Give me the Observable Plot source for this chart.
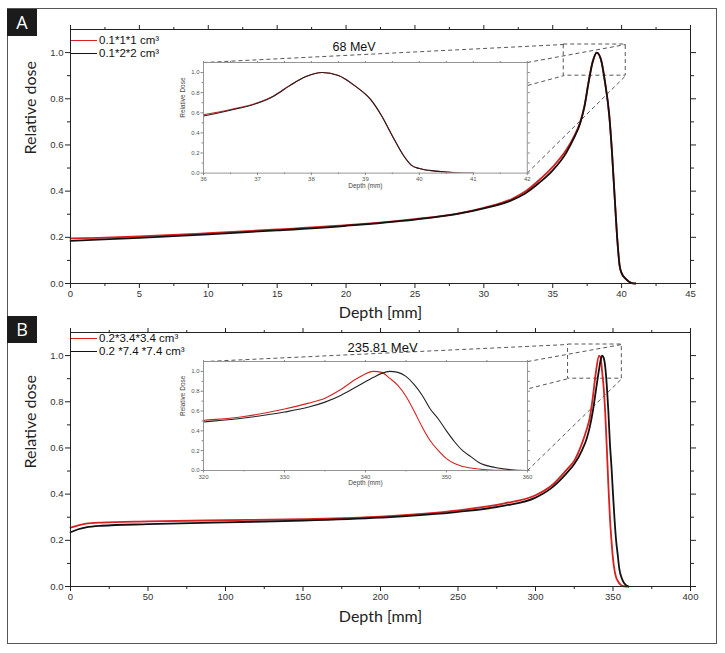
<!DOCTYPE html>
<html><head><meta charset="utf-8">
<script src="https://cdn.jsdelivr.net/npm/d3@7"></script>
<script src="https://cdn.jsdelivr.net/npm/@observablehq/plot@0.6"></script>
<style>
html,body{margin:0;padding:0;background:#fff;overflow:hidden}
#fig{position:relative;width:725px;height:653px;overflow:hidden}
#fig svg{position:absolute;overflow:visible}
.tag{position:absolute;background:#1b1b1b;color:#fff;font:18px "Open Sans",sans-serif;text-align:center;width:30px;height:27px;line-height:27px}
.leg{position:absolute;font:11.5px "Liberation Sans",Arial,sans-serif;color:#111;white-space:nowrap;line-height:13px}
.sw{position:absolute;width:26px;height:0}
#border{position:absolute;left:7px;top:8px;width:708px;height:634px;border:1.5px solid #555;pointer-events:none}
</style></head><body><div id="fig"><div id="border"></div></div>
<script>
// ---------- Panel A: 68 MeV ----------
const aDepth = [0, 2, 5, 10, 15, 20, 25, 28, 30, 32, 33, 34, 35, 36, 36.5, 37, 37.3, 37.6, 37.9, 38.2, 38.5, 38.8, 39.1, 39.3, 39.5, 39.7, 39.85, 40, 40.3, 40.7, 41];
const aRed   = [0.195, 0.198, 0.204, 0.218, 0.234, 0.253, 0.279, 0.302, 0.328, 0.365, 0.398, 0.447, 0.505, 0.58, 0.632, 0.70, 0.768, 0.872, 0.96, 1.0, 0.97, 0.87, 0.73, 0.57, 0.37, 0.18, 0.08, 0.045, 0.02, 0.003, 0];
const aBlack = [0.185, 0.19, 0.198, 0.213, 0.23, 0.25, 0.277, 0.30, 0.325, 0.36, 0.39, 0.435, 0.49, 0.568, 0.625, 0.695, 0.765, 0.87, 0.96, 1.0, 0.97, 0.87, 0.73, 0.57, 0.37, 0.18, 0.08, 0.045, 0.02, 0.003, 0];
const aLegend = ["0.1*1*1 cm³", "0.1*2*2 cm³"];
const aEnergy = "68 MeV";
const aXTicks = [0, 5, 10, 15, 20, 25, 30, 35, 40, 45];
const aXMinor = [2.5, 7.5, 12.5, 17.5, 22.5, 27.5, 32.5, 37.5, 42.5];
const aInsetXTicks = [36, 37, 38, 39, 40, 41, 42];
const aInsetXMinor = [36.5, 37.5, 38.5, 39.5, 40.5, 41.5];

// ---------- Panel B: 235.81 MeV ----------
const bDepthRed = [0, 5, 10, 20, 50, 100, 150, 200, 250, 280, 300, 310, 320, 325, 330, 333, 335, 337, 339, 341, 342, 343, 344, 345, 346, 347, 348, 349, 350, 351, 352, 353, 355, 357, 360];
const bRed      = [0.255, 0.265, 0.272, 0.277, 0.282, 0.287, 0.292, 0.303, 0.33, 0.36, 0.395, 0.435, 0.505, 0.545, 0.62, 0.68, 0.73, 0.82, 0.93, 1.0, 0.99, 0.93, 0.86, 0.75, 0.60, 0.44, 0.30, 0.20, 0.12, 0.07, 0.04, 0.025, 0.007, 0.001, 0];
const bDepthBlack = [0, 5, 10, 20, 50, 100, 150, 200, 250, 280, 300, 310, 320, 325, 330, 333, 335, 337, 339, 341, 342, 343, 344, 345, 346, 347, 348, 349, 350, 351, 352, 353, 354, 356, 358, 360];
const bBlack      = [0.235, 0.248, 0.256, 0.263, 0.27, 0.278, 0.285, 0.298, 0.323, 0.35, 0.385, 0.425, 0.49, 0.53, 0.59, 0.64, 0.69, 0.76, 0.85, 0.94, 0.98, 1.0, 0.99, 0.95, 0.87, 0.76, 0.62, 0.52, 0.40, 0.29, 0.20, 0.14, 0.08, 0.03, 0.008, 0];
const bLegend = ["0.2*3.4*3.4 cm³", "0.2 *7.4 *7.4 cm³"];
const bEnergy = "235.81 MeV";
const bXTicks = [0, 50, 100, 150, 200, 250, 300, 350, 400];
const bXMinor = [25, 75, 125, 175, 225, 275, 325, 375];
const bInsetXTicks = [320, 330, 340, 350, 360];
const bInsetXMinor = [325, 335, 345, 355];

// ---------- shared ----------
const yTicks = [0, 0.2, 0.4, 0.6, 0.8, 1.0];
const yMinor = [0.1, 0.3, 0.5, 0.7, 0.9];
const yDomain = [0, 1.1];

// layout (in each main panel's data coordinates)
const layoutA = {top: 0, xDomain: [0, 45], insetX: [9.65, 33.15], insetY: [0.478, 0.957], insetDomain: [36, 42],
  box: {x1: 35.8, x2: 40.3, y1: 0.9, y2: 1.035}, energyDx: 262, energyDy: 13, energySize: 12.5, yTitleDy: -2, xTitleDy: 34,
  tag: "A", tagTop: 9, legTop: 40.7};
const layoutB = {top: 303, xDomain: [0, 400], insetX: [85.8, 294.8], insetY: [0.502, 0.974], insetDomain: [320, 360],
  box: {x1: 321, x2: 355.7, y1: 0.9, y2: 1.048}, energyDx: 277, energyDy: 10, energySize: 13, yTitleDy: 9, xTitleDy: 35,
  tag: "B", tagTop: 316, legTop: 339};

const FONT = '"Liberation Sans", Arial, sans-serif';
const TFONT = 'Lato, "Open Sans", sans-serif';
const RED = "#d8201f", BLACK = "#111";
const blank = () => "";

function toRows(depth, dose) { return depth.map((d, i) => ({depth: d, dose: dose[i]})); }

function mainPanel(L, red, black, xTicks, xMinor, energy) {
  const [x1, x2] = L.insetX, [y1, y2] = L.insetY, b = L.box;
  const links = [
    {x1: x1, y1: y2, x2: b.x1, y2: b.y2},
    {x1: x2, y1: y2, x2: b.x2, y2: b.y2},
    {x1: x2, y1: y1, x2: b.x2, y2: b.y1},
    {x1: x1, y1: y1, x2: b.x1, y2: b.y1}
  ];
  const dash = {stroke: "#444", strokeWidth: 0.9, strokeDasharray: "4,3"};
  const tk = {stroke: "#222", fill: "#333", label: null};
  return Plot.plot({
    width: 725, height: 330, marginLeft: 70, marginRight: 35, marginTop: 29, marginBottom: 47,
    x: {domain: L.xDomain}, y: {domain: yDomain},
    style: {fontFamily: FONT, fontSize: "9.5px", background: "transparent", color: "#222"},
    marks: [
      Plot.link(links, {x1: "x1", y1: "y1", x2: "x2", y2: "y2", ...dash}),
      Plot.rect([b], {x1: "x1", x2: "x2", y1: "y1", y2: "y2", fill: "none", ...dash}),
      Plot.line(red, {x: "depth", y: "dose", stroke: RED, strokeWidth: 1.8, curve: "monotone-x"}),
      Plot.line(black, {x: "depth", y: "dose", stroke: BLACK, strokeWidth: 1.8, curve: "monotone-x"}),
      Plot.frame({stroke: "#222", strokeWidth: 1}),
      Plot.axisY({...tk, anchor: "left", ticks: yTicks, tickSize: 5, tickPadding: 2, tickFormat: d => d.toFixed(1)}),
      Plot.axisY({...tk, anchor: "left", ticks: yMinor, tickSize: 3, tickFormat: blank}),
      Plot.axisY({...tk, anchor: "right", ticks: yTicks, tickSize: 5, tickFormat: blank}),
      Plot.axisY({...tk, anchor: "right", ticks: yMinor, tickSize: 3, tickFormat: blank}),
      Plot.axisX({...tk, anchor: "bottom", ticks: xTicks, tickSize: 5, tickPadding: 2, tickFormat: d => String(d)}),
      Plot.axisX({...tk, anchor: "bottom", ticks: xMinor, tickSize: 3, tickFormat: blank}),
      Plot.axisX({...tk, anchor: "top", ticks: xTicks, tickSize: 5, tickFormat: blank}),
      Plot.axisX({...tk, anchor: "top", ticks: xMinor, tickSize: 3, tickFormat: blank}),
      Plot.text([energy], {text: d => d, frameAnchor: "top-left", textAnchor: "start", dx: L.energyDx, dy: L.energyDy, fontSize: L.energySize, fill: "#111"}),
      Plot.text(["Depth [mm]"], {text: d => d, frameAnchor: "bottom", dy: L.xTitleDy, fontFamily: TFONT, fontSize: 16, fill: "#222"}),
      Plot.text(["Relative dose"], {text: d => d, frameAnchor: "left", rotate: -90, dx: -40, dy: L.yTitleDy, fontFamily: TFONT, fontSize: 16, fill: "#222"})
    ]
  });
}

function insetPanel(L, red, black, xTicks, xMinor, w, h, ml, mt, mr, mb) {
  const tk = {stroke: "#888", fill: "#555", label: null};
  return Plot.plot({
    width: w + ml + mr, height: h + mt + mb, marginLeft: ml, marginRight: mr, marginTop: mt, marginBottom: mb,
    x: {domain: L.insetDomain}, y: {domain: yDomain},
    style: {fontFamily: FONT, fontSize: "6px", background: "transparent"},
    marks: [
      Plot.frame({fill: "white", stroke: "none"}),
      Plot.line(red, {x: "depth", y: "dose", stroke: RED, strokeWidth: 1.1, curve: "monotone-x", clip: true}),
      Plot.line(black, {x: "depth", y: "dose", stroke: "#222", strokeWidth: 1.1, curve: "monotone-x", clip: true}),
      Plot.frame({stroke: "#8a8a8a", strokeWidth: 0.9}),
      Plot.axisY({...tk, anchor: "left", ticks: yTicks, tickSize: 2.5, tickPadding: 1.5, tickFormat: d => d.toFixed(1)}),
      Plot.axisY({...tk, anchor: "left", ticks: yMinor, tickSize: 1.5, tickFormat: blank}),
      Plot.axisY({...tk, anchor: "right", ticks: yTicks.concat(yMinor), tickSize: 2, tickFormat: blank}),
      Plot.axisX({...tk, anchor: "bottom", ticks: xTicks, tickSize: 2.5, tickPadding: 1.5, tickFormat: d => String(d)}),
      Plot.axisX({...tk, anchor: "bottom", ticks: xMinor, tickSize: 1.5, tickFormat: blank}),
      Plot.axisX({...tk, anchor: "top", ticks: xTicks.concat(xMinor), tickSize: 2, tickFormat: blank}),
      Plot.text(["Relative Dose"], {text: d => d, frameAnchor: "left", rotate: -90, dx: -21, fontSize: 6.5, fill: "#444"}),
      Plot.text(["Depth (mm)"], {text: d => d, frameAnchor: "bottom", dy: 15, fontSize: 6.5, fill: "#444"})
    ]
  });
}

const fig = document.getElementById("fig");
const border = document.getElementById("border");

function build(L, red, black, xTicks, xMinor, insetXTicks, insetXMinor, energy, legend) {
  const main = mainPanel(L, red, black, xTicks, xMinor, energy);
  main.style.left = "0px"; main.style.top = L.top + "px";
  fig.insertBefore(main, border);
  const sx = main.scale("x"), sy = main.scale("y");
  const fx1 = sx.apply(L.insetX[0]), fx2 = sx.apply(L.insetX[1]);
  const fy1 = sy.apply(L.insetY[1]), fy2 = sy.apply(L.insetY[0]);
  const ml = 28, mt = 4, mr = 6, mb = 22;
  const inset = insetPanel(L, red, black, insetXTicks, insetXMinor, fx2 - fx1, fy2 - fy1, ml, mt, mr, mb);
  inset.style.left = (fx1 - ml) + "px"; inset.style.top = (L.top + fy1 - mt) + "px";
  fig.insertBefore(inset, border);
  // legend
  [RED, BLACK].forEach((c, i) => {
    const y = L.legTop + i * 12.8;
    const sw = document.createElement("div");
    sw.className = "sw";
    sw.style.cssText = `left:71px;top:${y - 0.8}px;border-top:1.6px solid ${c}`;
    fig.insertBefore(sw, border);
    const t = document.createElement("div");
    t.className = "leg";
    t.style.left = "99px"; t.style.top = (y - 7) + "px";
    t.textContent = legend[i];
    fig.insertBefore(t, border);
  });
  const tag = document.createElement("div");
  tag.className = "tag"; tag.style.left = "7px"; tag.style.top = L.tagTop + "px";
  tag.textContent = L.tag;
  fig.appendChild(tag);
}

build(layoutA, toRows(aDepth, aRed), toRows(aDepth, aBlack), aXTicks, aXMinor, aInsetXTicks, aInsetXMinor, aEnergy, aLegend);
build(layoutB, toRows(bDepthRed, bRed), toRows(bDepthBlack, bBlack), bXTicks, bXMinor, bInsetXTicks, bInsetXMinor, bEnergy, bLegend);
</script></body></html>
